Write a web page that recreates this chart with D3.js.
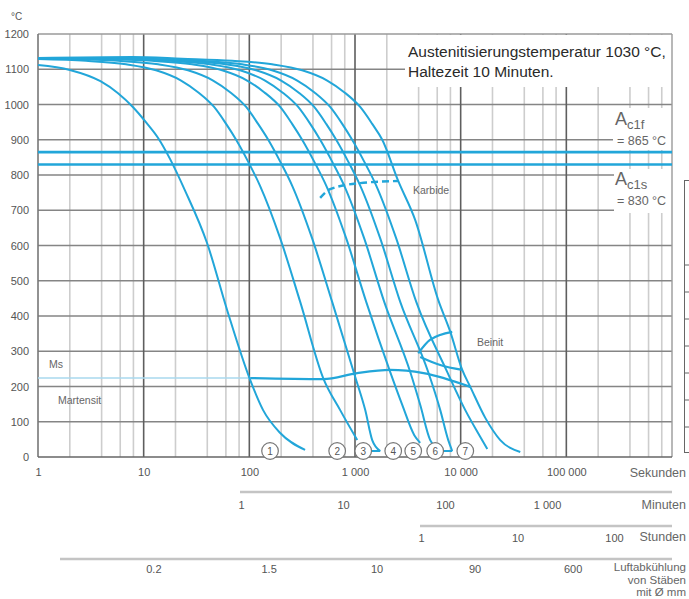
<!DOCTYPE html>
<html>
<head>
<meta charset="utf-8">
<script src="https://cdn.jsdelivr.net/npm/d3@7"></script>
<style>
  body { margin: 0; background: #fff; }
  svg { display: block; }
</style>
</head>
<body>
<svg id="chart" width="689" height="599"></svg>
<script>
// ---- data -------------------------------------------------------------
const tempTicks    = [0, 100, 200, 300, 400, 500, 600, 700, 800, 900, 1000, 1100, 1200];
const secondTicks  = [1, 10, 100, 1000, 10000, 100000];
const minuteTicks  = [1, 10, 100, 1000];
const hourTicks    = [1, 10, 100];
const barDiameters = ["0.2", "1.5", "10", "90", "600"];
const barDiameterSeconds = [12.5, 154, 1620, 13700, 116000];

const curveLabels  = ["1", "2", "3", "4", "5", "6", "7"];
const curveLabelSeconds = [157, 678, 1196, 2300, 3556, 5740, 11060];

// cooling curves: [time in s, temperature in °C]
const curve1 = [[1,1112],[2,1098],[3.9,1066],[5.72,1032],[7.9,993],[10.5,950],[13.7,905],[17.8,845],[24.7,755],[39.8,607],[61.6,417],[102,218],[135,133],[196,68],[337,20]];
const curve2 = [[1,1129],[2.85,1124],[6.81,1114],[13.1,1097],[22.6,1068],[32.7,1035],[46.4,993],[60.3,945],[75,900],[97.4,838],[126,770],[196,620],[303,440],[500,224],[724,133],[1050,48]];
const curve3 = [[1,1131],[1.92,1129],[5.72,1124],[13.7,1114],[26.3,1097],[45.4,1068],[65.8,1035],[93.3,993],[121,945],[151,900],[196,838],[254,770],[393,620],[608,440],[1005,227],[1250,133],[1455,48],[1733,17]];
const curve4 = [[1,1132],[4.04,1129],[12,1124],[28.7,1114],[55.3,1097],[95.3,1068],[138,1035],[196,993],[254,945],[316,900],[411,838],[534,770],[826,620],[1277,440],[2155,241],[2800,148],[3640,62],[4140,40]];
const curve5 = [[1,1132],[5.98,1129],[17.8,1124],[42.6,1114],[81.8,1097],[141,1068],[204,1035],[290,993],[377,945],[468,900],[608,838],[790,770],[1222,620],[1891,440],[3334,241],[4140,148],[5150,48],[5740,28]];
const curve6 = [[1,1132],[8.47,1129],[25.2,1124],[60.3,1114],[116,1097],[200,1068],[290,1035],[411,993],[534,945],[664,900],[863,838],[1120,770],[1733,620],[2680,440],[4930,241],[6410,133],[7630,48],[8320,17]];
const curve7 = [[1,1132],[12,1129],[35.7,1124],[85.5,1114],[164,1097],[284,1068],[411,1035],[582,993],[757,945],[940,900],[1222,838],[1588,770],[2455,620],[3800,440],[7470,241],[11060,133],[15350,57],[17870,23]];
const curve8 = [[1,1132],[7.77,1135],[23.1,1130],[68.7,1124],[164,1114],[316,1097],[546,1068],[790,1035],[1120,993],[1455,945],[1811,900],[2564,783],[3716,672],[6140,445],[7980,355],[10350,247],[12330,199],[17100,111],[23700,48],[36650,14]];
const coolingCurves = [curve1, curve2, curve3, curve4, curve5, curve6, curve7, curve8];

const ac1f = 865;
const ac1s = 830;
const msStart = [[1,224],[102,224]];
const msBainiteLine = [[102,224],[500,221],[1050,238],[2155,247],[4460,238],[12330,199]];
const bainiteStart  = [[3970,294],[5120,332],[8320,355]];
const bainiteEnd    = [[4140,284],[6410,261],[10350,247]];
const carbideLine   = [[468,735],[582,760],[1120,777],[2564,783]];

// ---- setup --------------------------------------------------------------
const FONT = '"Liberation Sans", Arial, Helvetica, sans-serif';
const BLUE = "#22a6d9";
const svg = d3.select("#chart").style("font-family", FONT);

const x = d3.scaleLog().domain([1, 1e6]).range([38, 672]);
const y = d3.scaleLinear().domain([0, 1200]).range([457, 34]);
const xMin  = d3.scaleLog().domain([1, 1000]).range([241, 547]);
const xHour = d3.scaleLog().domain([1, 100]).range([421, 614]);

const line = d3.line().x(d => x(d[0])).y(d => y(d[1])).curve(d3.curveMonotoneX);
const fmtSpace = d3.formatLocale({decimal: ".", thousands: " ", grouping: [3], currency: ["", ""]}).format(",");

svg.append("rect").attr("width", 689).attr("height", 599).attr("fill", "#fff");

// ---- grid --------------------------------------------------------------
const minorTimes = [];
const majorTimes = [];
for (let k = 0; k < 6; k++) {
  const base = Math.pow(10, k);
  if (k > 0) majorTimes.push(base);
  [2, 4, 6, 8].forEach(m => minorTimes.push(m * base));
}
const grid = svg.append("g");
grid.selectAll(".vminor").data(minorTimes).join("line")
  .attr("x1", d => x(d)).attr("x2", d => x(d))
  .attr("y1", y(1200)).attr("y2", y(0))
  .attr("stroke", "#cdcdcd").attr("stroke-width", 1.6);
grid.selectAll(".h").data(tempTicks.filter(t => t > 0 && t < 1200)).join("line")
  .attr("x1", x(1)).attr("x2", x(1e6))
  .attr("y1", d => y(d)).attr("y2", d => y(d))
  .attr("stroke", "#858585").attr("stroke-width", 1.6);
grid.selectAll(".vmajor").data(majorTimes).join("line")
  .attr("x1", d => x(d)).attr("x2", d => x(d))
  .attr("y1", y(1200)).attr("y2", y(0))
  .attr("stroke", "#5e5e5e").attr("stroke-width", 1.6);

// ---- label boxes ------------------------------------------------------
svg.append("rect").attr("x", 405).attr("y", y(1200) + 1).attr("width", x(1e6) - 405).attr("height", 52).attr("fill", "#fff");
svg.append("rect").attr("x", 613).attr("y", 108).attr("width", x(1e6) - 613).attr("height", 42).attr("fill", "#fff");
svg.append("rect").attr("x", 614).attr("y", 169).attr("width", x(1e6) - 614).attr("height", 44).attr("fill", "#fff");

// ---- frame -------------------------------------------------------------
svg.append("line").attr("x1", x(1)).attr("x2", x(1e6)).attr("y1", y(1200)).attr("y2", y(1200)).attr("stroke", "#9a9a9a").attr("stroke-width", 1.4);
svg.append("line").attr("x1", x(1e6)).attr("x2", x(1e6)).attr("y1", y(1200)).attr("y2", y(0)).attr("stroke", "#9a9a9a").attr("stroke-width", 1.4);
svg.append("line").attr("x1", x(1)).attr("x2", x(1)).attr("y1", y(1200)).attr("y2", y(0)).attr("stroke", "#777").attr("stroke-width", 1.6);
svg.append("line").attr("x1", x(1)).attr("x2", x(1e6)).attr("y1", y(0)).attr("y2", y(0)).attr("stroke", "#666").attr("stroke-width", 1.6);

// neighbouring panel edge on the right
svg.append("rect").attr("x", 684.5).attr("y", 180.5).attr("width", 30).attr("height", 272).attr("fill", "none").attr("stroke", "#666").attr("stroke-width", 1);
svg.selectAll(".sideTick").data([265, 292, 319, 346, 373, 400, 427]).join("line")
  .attr("x1", 684).attr("x2", 689).attr("y1", d => d).attr("y2", d => d)
  .attr("stroke", "#666").attr("stroke-width", 1);

// ---- A_c1 lines -------------------------------------------------------
[ac1f, ac1s].forEach(t => {
  svg.append("line").attr("x1", x(1)).attr("x2", x(1e6)).attr("y1", y(t)).attr("y2", y(t))
    .attr("stroke", BLUE).attr("stroke-width", 2.6);
});

// ---- transformation lines ---------------------------------------------
svg.append("path").attr("d", line(msStart)).attr("fill", "none").attr("stroke", "#a9d8ee").attr("stroke-width", 1.6);
[msBainiteLine, bainiteStart, bainiteEnd].forEach(d => {
  svg.append("path").attr("d", line(d)).attr("fill", "none").attr("stroke", BLUE).attr("stroke-width", 2.2);
});
svg.append("path").attr("d", line(carbideLine)).attr("fill", "none").attr("stroke", BLUE)
  .attr("stroke-width", 2.4).attr("stroke-dasharray", "7,4");

// ---- cooling curves ---------------------------------------------------
svg.selectAll(".cool").data(coolingCurves).join("path")
  .attr("d", line).attr("fill", "none").attr("stroke", BLUE).attr("stroke-width", 2);

// connectors from labels 3 and 6 to their curve ends
[[2, curve3], [5, curve6]].forEach(([i, c]) => {
  const end = c[c.length - 1];
  svg.append("line").attr("x1", x(curveLabelSeconds[i]) + 8).attr("x2", x(end[0]))
    .attr("y1", y(end[1])).attr("y2", y(end[1])).attr("stroke", BLUE).attr("stroke-width", 2);
});

// curve number badges
const badges = svg.selectAll(".badge").data(curveLabels).join("g")
  .attr("transform", (d, i) => `translate(${x(curveLabelSeconds[i])},451)`);
badges.append("circle").attr("r", 8.3).attr("fill", "#fff").attr("stroke", "#777").attr("stroke-width", 1.2);
badges.append("text").text(d => d).attr("text-anchor", "middle").attr("dy", "0.36em")
  .attr("font-size", 10).attr("fill", "#555");

// ---- axes ---------------------------------------------------------------
const yAxis = svg.append("g").attr("transform", `translate(31,0)`)
  .call(d3.axisLeft(y).tickValues(tempTicks).tickFormat(d3.format("d")).tickSize(0).tickPadding(2));
yAxis.select(".domain").remove();
yAxis.attr("font-family", FONT).attr("font-size", 11).selectAll("text").attr("fill", "#555");
svg.append("text").text("°C").attr("x", 11).attr("y", 20).attr("font-size", 10).attr("fill", "#555");

const xAxis = svg.append("g").attr("transform", `translate(0,${y(0)})`)
  .call(d3.axisBottom(x).tickValues(secondTicks).tickFormat(fmtSpace).tickSize(0).tickPadding(11));
xAxis.select(".domain").remove();
xAxis.attr("font-family", FONT).attr("font-size", 11).selectAll("text").attr("fill", "#555");

// minutes
svg.append("line").attr("x1", 240).attr("x2", x(1e6)).attr("y1", 492).attr("y2", 492).attr("stroke", "#c4c4c4").attr("stroke-width", 2.5);
const mAxis = svg.append("g").attr("transform", "translate(0,492)")
  .call(d3.axisBottom(xMin).tickValues(minuteTicks).tickFormat(fmtSpace).tickSize(0).tickPadding(9));
mAxis.select(".domain").remove();
mAxis.attr("font-family", FONT).attr("font-size", 11).selectAll("text").attr("fill", "#555");

// hours
svg.append("line").attr("x1", 420).attr("x2", x(1e6)).attr("y1", 526).attr("y2", 526).attr("stroke", "#c4c4c4").attr("stroke-width", 2.5);
const hAxis = svg.append("g").attr("transform", "translate(0,526)")
  .call(d3.axisBottom(xHour).tickValues(hourTicks).tickFormat(fmtSpace).tickSize(0).tickPadding(8));
hAxis.select(".domain").remove();
hAxis.attr("font-family", FONT).attr("font-size", 11).selectAll("text").attr("fill", "#555");

// air cooling, bar diameter
svg.append("line").attr("x1", 60).attr("x2", x(1e6)).attr("y1", 559).attr("y2", 559).attr("stroke", "#c4c4c4").attr("stroke-width", 2.5);
svg.selectAll(".dia").data(barDiameters).join("text")
  .text(d => d).attr("x", (d, i) => x(barDiameterSeconds[i])).attr("y", 573)
  .attr("text-anchor", "middle").attr("font-size", 11).attr("fill", "#555");

// unit captions
const unitCaps = [["Sekunden", 477, 12.5], ["Minuten", 509, 12.5], ["Stunden", 541, 12.5],
                  ["Luftabkühlung", 571, 11.5], ["von Stäben", 583.5, 11.5], ["mit Ø mm", 596, 11.5]];
svg.selectAll(".unit").data(unitCaps).join("text")
  .text(d => d[0]).attr("x", 686).attr("y", d => d[1]).attr("text-anchor", "end")
  .attr("font-size", d => d[2]).attr("fill", "#666");

// ---- annotations ------------------------------------------------------
svg.append("text").text("Austenitisierungstemperatur 1030 °C,").attr("x", 408).attr("y", 57).attr("font-size", 15.5).attr("fill", "#2a2a2a");
svg.append("text").text("Haltezeit 10 Minuten.").attr("x", 408).attr("y", 77).attr("font-size", 15.5).attr("fill", "#2a2a2a");

function acLabel(sub, value, yA, yV) {
  const t = svg.append("text").attr("x", 615).attr("y", yA).attr("fill", "#666");
  t.append("tspan").text("A").attr("font-size", 18);
  t.append("tspan").text(sub).attr("font-size", 13).attr("dy", 4);
  svg.append("text").text(`= ${value} °C`).attr("x", 617).attr("y", yV).attr("font-size", 12.5).attr("fill", "#666");
}
acLabel("c1f", ac1f, 125, 145);
acLabel("c1s", ac1s, 185, 205);

const smallLabels = [["Ms", 49, 368], ["Martensit", 58, 404], ["Karbide", 413, 194], ["Beinit", 477, 346]];
svg.selectAll(".note").data(smallLabels).join("text")
  .text(d => d[0]).attr("x", d => d[1]).attr("y", d => d[2])
  .attr("font-size", 10.5).attr("fill", "#666");
</script>
</body>
</html>
